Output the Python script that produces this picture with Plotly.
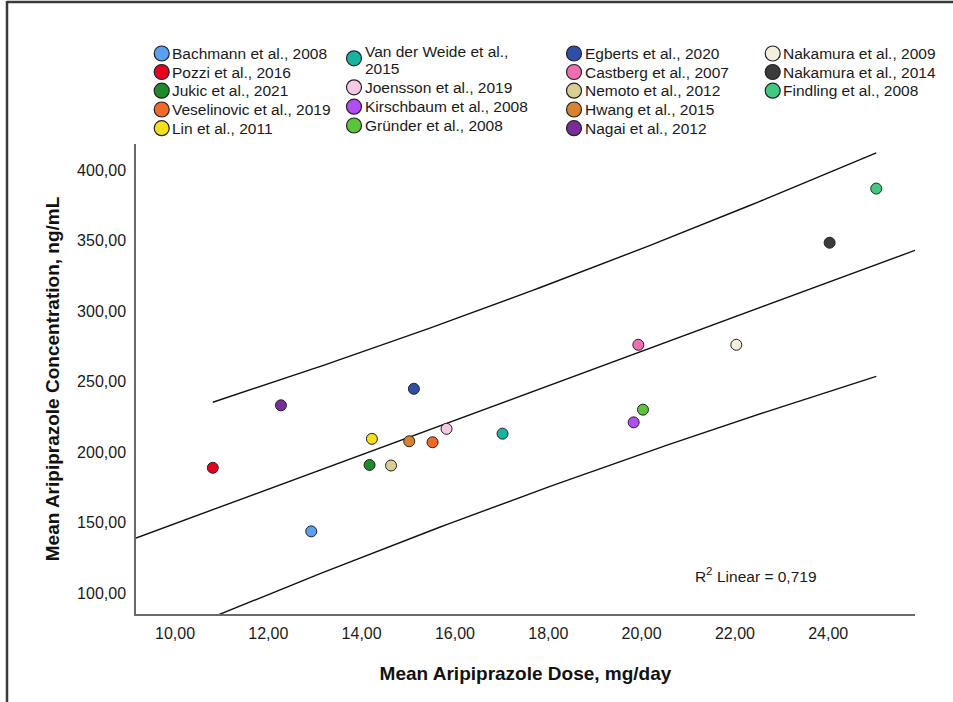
import numpy as np
import plotly.graph_objects as go

# Study-level means: dose (mg/day) and plasma concentration (ng/mL)
studies = [
    "Bachmann et al., 2008", "Pozzi et al., 2016", "Jukic et al., 2021",
    "Veselinovic et al., 2019", "Lin et al., 2011",
    "Van der Weide et al., 2015", "Joensson et al., 2019",
    "Kirschbaum et al., 2008", "Gründer et al., 2008",
    "Egberts et al., 2020", "Castberg et al., 2007", "Nemoto et al., 2012",
    "Hwang et al., 2015", "Nagai et al., 2012",
    "Nakamura et al., 2009", "Nakamura et al., 2014", "Findling et al., 2008",
]
dose = [12.92, 10.81, 14.17, 15.52, 14.22,
        17.02, 15.82, 19.83, 20.03,
        15.12, 19.93, 14.63, 15.02, 12.27,
        22.03, 24.03, 25.03]
conc = [143.9, 189.0, 191.0, 207.1, 209.5,
        213.2, 216.6, 221.2, 230.2,
        245.0, 276.2, 190.6, 207.8, 233.3,
        276.2, 348.6, 387.0]
colors = ["#5a9ff0", "#e4001e", "#1f8a2c", "#f26a28", "#f3e01c",
          "#17b39f", "#f8c8e2", "#b24df2", "#5cc43a",
          "#2e4ea8", "#f06fb2", "#d8cf92", "#d8832f", "#7a2d98",
          "#f3efdc", "#3b3b3b", "#40c97f"]
legend_columns = [
    ["Bachmann et al., 2008", "Pozzi et al., 2016", "Jukic et al., 2021",
     "Veselinovic et al., 2019", "Lin et al., 2011"],
    ["Van der Weide et al., 2015", "Joensson et al., 2019",
     "Kirschbaum et al., 2008", "Gründer et al., 2008"],
    ["Egberts et al., 2020", "Castberg et al., 2007", "Nemoto et al., 2012",
     "Hwang et al., 2015", "Nagai et al., 2012"],
    ["Nakamura et al., 2009", "Nakamura et al., 2014", "Findling et al., 2008"],
]
r2_value = "0,719"
x_ticks = [10, 12, 14, 16, 18, 20, 22, 24]
y_ticks = [100, 150, 200, 250, 300, 350, 400]
x_range = [9.164, 25.86]
y_range = [85.3, 418.6]

FONT = "Liberation Sans, Arial, sans-serif"
W, H = 953, 702
ML, MR, MT, MB = 136, 38, 144, 88
PW, PH = W - ML - MR, H - MT - MB


def px(x):
    return (x - ML) / PW


def py(y):
    return (H - MB - y) / PH


# Ordinary least squares fit with 95% prediction interval
xa, ya = np.array(dose), np.array(conc)
n = len(xa)
slope, intercept = np.polyfit(xa, ya, 1)
resid = ya - (intercept + slope * xa)
s = np.sqrt(np.sum(resid ** 2) / (n - 2))
sxx = np.sum((xa - xa.mean()) ** 2)
t_crit = 2.131  # t(0.975, df=15)

fig = go.Figure()

x_fit = np.linspace(x_range[0], x_range[1], 50)
fig.add_trace(go.Scatter(x=x_fit, y=intercept + slope * x_fit, mode="lines",
                         line=dict(color="#111111", width=1.4),
                         showlegend=False, hoverinfo="skip"))
x_pi = np.linspace(xa.min(), xa.max(), 80)
half = t_crit * s * np.sqrt(1 + 1 / n + (x_pi - xa.mean()) ** 2 / sxx)
for sign in (1, -1):
    fig.add_trace(go.Scatter(x=x_pi, y=intercept + slope * x_pi + sign * half,
                             mode="lines",
                             line=dict(color="#111111", width=1.4),
                             showlegend=False, hoverinfo="skip"))

for name, xv, yv, c in zip(studies, dose, conc, colors):
    fig.add_trace(go.Scatter(x=[xv], y=[yv], mode="markers", name=name,
                             marker=dict(size=11, color=c,
                                         line=dict(color="#222222", width=1)),
                             showlegend=False))

# Key: circles and labels arranged in four columns above the plot
color_of = dict(zip(studies, colors))
col_marker_x = [161.7, 354.0, 574.0, 772.7]
row_y = [53.5, 72.0, 90.7, 109.5, 128.2]
col2_row_y = [58.3, 87.3, 106.7, 125.5]
shapes = []
annotations = []
for ci, col in enumerate(legend_columns):
    ys = col2_row_y if ci == 1 else row_y
    for ri, name in enumerate(col):
        cy = ys[ri]
        cx = col_marker_x[ci]
        shapes.append(dict(type="circle", xref="paper", yref="paper",
                           xsizemode="pixel", ysizemode="pixel",
                           xanchor=px(cx), yanchor=py(cy),
                           x0=-7.5, x1=7.5, y0=-7.5, y1=7.5,
                           fillcolor=color_of[name],
                           line=dict(color="#222222", width=1.2)))
        if name == "Van der Weide et al., 2015":
            lines = [("Van der Weide et al.,", cy - 6.6), ("2015", cy + 10.0)]
        else:
            lines = [(name, cy)]
        for txt, ty in lines:
            annotations.append(dict(text=txt, xref="paper", yref="paper",
                                    x=px(cx + 8.5), y=py(ty),
                                    xanchor="left", yanchor="middle",
                                    showarrow=False,
                                    font=dict(family=FONT, size=15.5,
                                              color="#1a1a1a")))

# R² label: base text with a raised exponent
annotations.append(dict(text="R", xref="x", yref="y", x=21.1, y=112,
                        xanchor="left", yanchor="middle", showarrow=False,
                        font=dict(family=FONT, size=15.5, color="#1a1a1a")))
annotations.append(dict(text="2", xref="x", yref="y", x=21.1, y=112,
                        xanchor="left", yanchor="middle", showarrow=False,
                        xshift=11, yshift=5,
                        font=dict(family=FONT, size=11.5, color="#1a1a1a")))
annotations.append(dict(text="Linear = " + r2_value, xref="x", yref="y",
                        x=21.1, y=112, xanchor="left", yanchor="middle",
                        showarrow=False, xshift=22,
                        font=dict(family=FONT, size=15.5, color="#1a1a1a")))

# Outer frame lines
shapes.append(dict(type="line", xref="paper", yref="paper",
                   x0=px(7), x1=px(W + 5), y0=py(2), y1=py(2),
                   line=dict(color="#3a3a3a", width=2.5)))
shapes.append(dict(type="line", xref="paper", yref="paper",
                   x0=px(7), x1=px(7), y0=py(1), y1=py(H + 5),
                   line=dict(color="#3a3a3a", width=2.5)))

fig.update_layout(
    width=W, height=H,
    margin=dict(l=ML, r=MR, t=MT, b=MB),
    paper_bgcolor="white", plot_bgcolor="white",
    separators=", ",
    font=dict(family=FONT, color="#1a1a1a"),
    showlegend=False,
    shapes=shapes, annotations=annotations,
    xaxis=dict(range=x_range, tickvals=x_ticks, tickformat=".2f",
               showgrid=False, zeroline=False, showline=True,
               linecolor="#6a6a6a", linewidth=1.5, ticks="",
               tickfont=dict(family=FONT, size=16, color="#1a1a1a"),
               ticklabelstandoff=4,
               title=dict(text="<b>Mean Aripiprazole Dose, mg/day</b>",
                          font=dict(family=FONT, size=19, color="#111111"),
                          standoff=26)),
    yaxis=dict(range=y_range, tickvals=y_ticks, tickformat=".2f",
               showgrid=False, zeroline=False, showline=True,
               linecolor="#6a6a6a", linewidth=1.5, ticks="",
               tickfont=dict(family=FONT, size=16, color="#1a1a1a"),
               ticklabelstandoff=5,
               title=dict(text="<b>Mean Aripiprazole Concentration, ng/mL</b>",
                          font=dict(family=FONT, size=19, color="#111111"),
                          standoff=12)),
)

fig.write_html("out.html")
